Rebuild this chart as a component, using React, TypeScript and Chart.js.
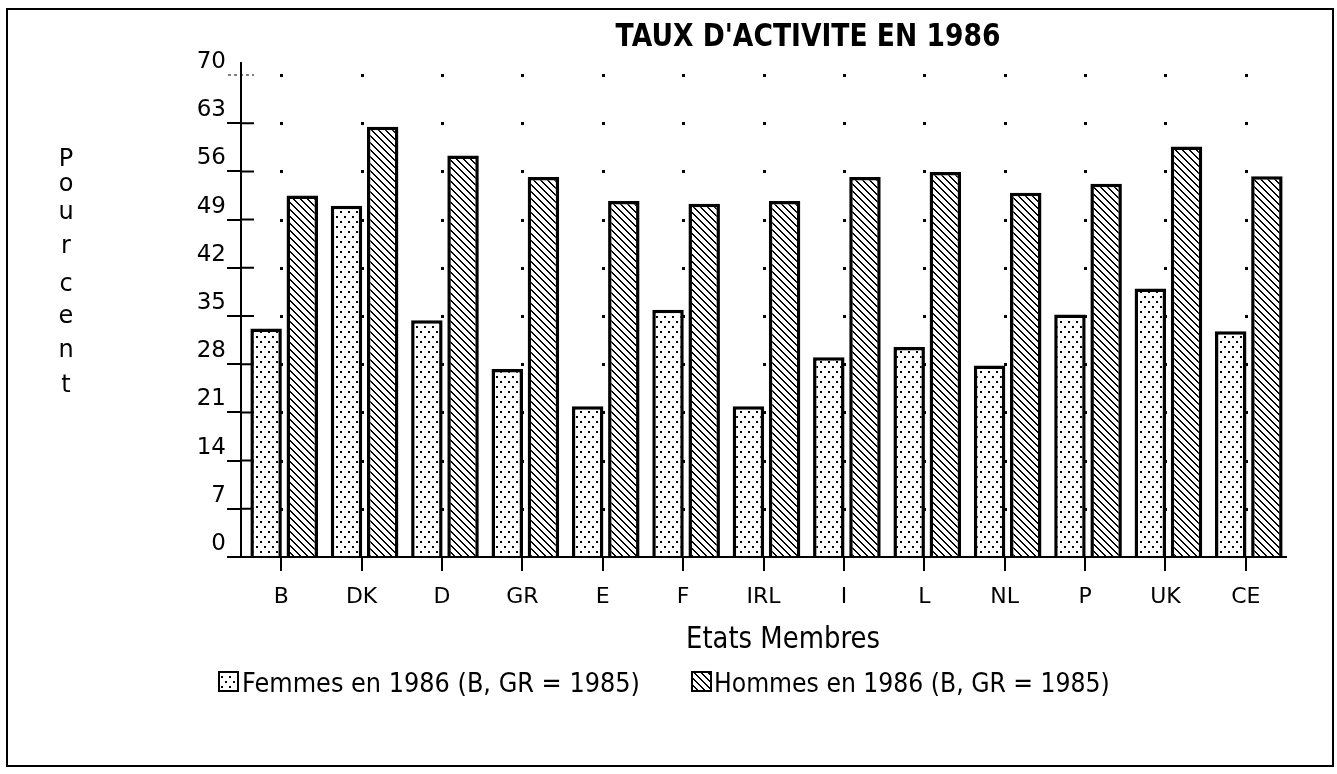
import React, { useEffect, useRef } from 'react';
import { Chart, registerables } from 'chart.js';

Chart.register(...registerables);

const categories = ['B', 'DK', 'D', 'GR', 'E', 'F', 'IRL', 'I', 'L', 'NL', 'P', 'UK', 'CE'];
const femmes = [33.2, 51.0, 34.4, 27.3, 21.9, 35.9, 21.9, 29.0, 30.5, 27.8, 35.2, 39.0, 32.8];
const hommes = [52.5, 62.5, 58.3, 55.2, 51.7, 51.3, 51.7, 55.2, 55.9, 52.9, 54.2, 59.6, 55.3];
const yTicks = [0, 7, 14, 21, 28, 35, 42, 49, 56, 63, 70];
const chartTitle = "TAUX D'ACTIVITE EN 1986";
const xTitle = 'Etats Membres';
const yTitle = 'Pourcent';
const legendLabels = ['Femmes en 1986 (B, GR = 1985)', 'Hommes en 1986 (B, GR = 1985)'];

const FONT = '"DejaVu Sans", Verdana, sans-serif';

function makeDots(): CanvasPattern | string {
  const w = 8, h = 10;
  const c = document.createElement('canvas');
  c.width = w; c.height = h;
  const g = c.getContext('2d');
  if (!g) return '#fff';
  g.fillStyle = '#fff'; g.fillRect(0, 0, w, h);
  g.fillStyle = '#000';
  g.fillRect(1, 1, 2, 2);
  g.fillRect(5, 6, 2, 2);
  return g.createPattern(c, 'repeat') || '#fff';
}

function makeHatch(): CanvasPattern | string {
  const n = 7;
  const c = document.createElement('canvas');
  c.width = n; c.height = n;
  const g = c.getContext('2d');
  if (!g) return '#fff';
  g.fillStyle = '#fff'; g.fillRect(0, 0, n, n);
  g.fillStyle = '#000';
  for (let y = 0; y < n; y++) {
    g.fillRect(y % n, y, 1, 1);
    g.fillRect((y + 1) % n, y, 1, 1);
  }
  return g.createPattern(c, 'repeat') || '#fff';
}

function fitFont(ctx: CanvasRenderingContext2D, text: string, weight: string, width: number) {
  ctx.font = `${weight} 100px ${FONT}`;
  const w = ctx.measureText(text).width;
  const size = (100 * width) / w;
  ctx.font = `${weight} ${size.toFixed(2)}px ${FONT}`;
  return size;
}

function stretchedText(ctx: CanvasRenderingContext2D, text: string, x: number, y: number, sy: number) {
  ctx.save();
  ctx.translate(x, y);
  ctx.scale(1, sy);
  ctx.fillText(text, 0, 0);
  ctx.restore();
}

export default function App() {
  const ref = useRef<HTMLCanvasElement | null>(null);

  useEffect(() => {
    if (!ref.current) return;
    const dots = makeDots();
    const hatch = makeHatch();
    const barShift = 3;

    const decor = {
      id: 'decor',
      beforeDraw(chart: any) {
        const ctx = chart.ctx as CanvasRenderingContext2D;
        ctx.save();
        ctx.fillStyle = '#fff';
        ctx.fillRect(0, 0, chart.width, chart.height);
        ctx.strokeStyle = '#000';
        ctx.lineWidth = 2;
        ctx.strokeRect(7, 9, 1326, 757);
        ctx.restore();
      },
      beforeDatasetsDraw(chart: any) {
        const ctx = chart.ctx as CanvasRenderingContext2D;
        const xs = chart.scales.x;
        const ys = chart.scales.y;
        const { left, top, bottom } = chart.chartArea;
        ctx.save();
        ctx.fillStyle = '#000';
        categories.forEach((_, i) => {
          const px = Math.round(xs.getPixelForValue(i));
          yTicks.forEach((v) => {
            if (v === 0) return;
            const py = Math.round(ys.getPixelForValue(v));
            ctx.fillRect(px - 1, py - 1, 3, 3);
          });
        });
        ctx.strokeStyle = '#000';
        ctx.lineWidth = 2;
        ctx.beginPath();
        ctx.moveTo(left, top - 13);
        ctx.lineTo(left, top);
        ctx.moveTo(left - 14, bottom);
        ctx.lineTo(left, bottom);
        yTicks.forEach((v) => {
          if (v === 0 || v === 70) return;
          const py = ys.getPixelForValue(v);
          ctx.moveTo(left, py);
          ctx.lineTo(left + 13, py);
        });
        ctx.stroke();
        const p70 = ys.getPixelForValue(70);
        ctx.lineWidth = 1;
        ctx.setLineDash([3, 3]);
        ctx.beginPath();
        ctx.moveTo(left - 13, p70);
        ctx.lineTo(left + 13, p70);
        ctx.stroke();
        ctx.restore();
        // bar groups sit slightly right of the tick marks, as in the original
        ctx.save();
        ctx.translate(barShift, 0);
      },
      afterDatasetsDraw(chart: any) {
        chart.ctx.restore();
      },
      afterDraw(chart: any) {
        const ctx = chart.ctx as CanvasRenderingContext2D;
        ctx.save();
        ctx.fillStyle = '#000';
        ctx.textBaseline = 'alphabetic';
        fitFont(ctx, chartTitle, 'bold', 385);
        ctx.textAlign = 'center';
        stretchedText(ctx, chartTitle, 808, 46, 1.2);
        ctx.font = `24px ${FONT}`;
        const baselines = [166, 191, 219, 253, 291, 323, 357, 392];
        yTitle.split('').forEach((ch, i) => {
          ctx.fillText(ch, 66, baselines[i]);
        });
        fitFont(ctx, xTitle, 'normal', 194);
        stretchedText(ctx, xTitle, 783, 648, 1.15);
        const boxes = [
          { x: 219, pat: dots, tx: 242, w: 398 },
          { x: 692, pat: hatch, tx: 714, w: 396 },
        ];
        boxes.forEach((b, i) => {
          ctx.fillStyle = b.pat as any;
          ctx.fillRect(b.x, 672, 19, 19);
          ctx.strokeStyle = '#000';
          ctx.lineWidth = 2;
          ctx.strokeRect(b.x, 672, 19, 19);
          ctx.fillStyle = '#000';
          ctx.textAlign = 'left';
          fitFont(ctx, legendLabels[i], 'normal', b.w);
          stretchedText(ctx, legendLabels[i], b.tx, 692, 1.12);
        });
        ctx.restore();
      },
    };

    const chart = new Chart(ref.current, {
      type: 'bar',
      data: {
        labels: categories,
        datasets: [
          {
            label: legendLabels[0],
            data: femmes,
            backgroundColor: dots as any,
            borderColor: '#000',
            borderWidth: 3.5,
            categoryPercentage: 0.9,
            barPercentage: 0.87,
          },
          {
            label: legendLabels[1],
            data: hommes,
            backgroundColor: hatch as any,
            borderColor: '#000',
            borderWidth: 3.5,
            categoryPercentage: 0.9,
            barPercentage: 0.87,
          },
        ],
      },
      options: {
        responsive: false,
        animation: false,
        layout: { padding: { left: 100, right: 51, top: 75, bottom: 100 } },
        plugins: {
          legend: { display: false },
          title: { display: false },
          tooltip: { enabled: false },
        },
        scales: {
          x: {
            type: 'category',
            offset: true,
            grid: {
              display: true,
              drawOnChartArea: false,
              drawTicks: true,
              tickLength: 14,
              color: '#000',
              lineWidth: 2,
              offset: false,
            },
            border: { display: true, color: '#000', width: 2 },
            ticks: {
              color: '#000',
              font: { family: FONT, size: 22 },
              padding: 13,
              maxRotation: 0,
              autoSkip: false,
            },
            afterFit: (s: any) => {
              s.height = 117;
            },
          },
          y: {
            min: 0,
            max: 70,
            ticks: {
              stepSize: 7,
              color: '#000',
              font: { family: FONT, size: 23 },
              padding: 1,
              labelOffset: -13,
            },
            grid: {
              drawOnChartArea: false,
              drawTicks: true,
              tickLength: 14,
              color: (c: any) => (c.tick && c.tick.value === 70 ? 'rgba(0,0,0,0)' : '#000'),
              lineWidth: 2,
            },
            border: { display: true, color: '#000', width: 2 },
            afterFit: (s: any) => {
              s.width = 141;
            },
          },
        },
      } as any,
      plugins: [decor],
    });

    return () => chart.destroy();
  }, []);

  return (
    <div style={{ position: 'fixed', left: 0, top: 0, width: 1337, height: 774, background: '#fff' }}>
      <canvas ref={ref} width={1337} height={774} style={{ display: 'block', width: 1337, height: 774 }} />
    </div>
  );
}
